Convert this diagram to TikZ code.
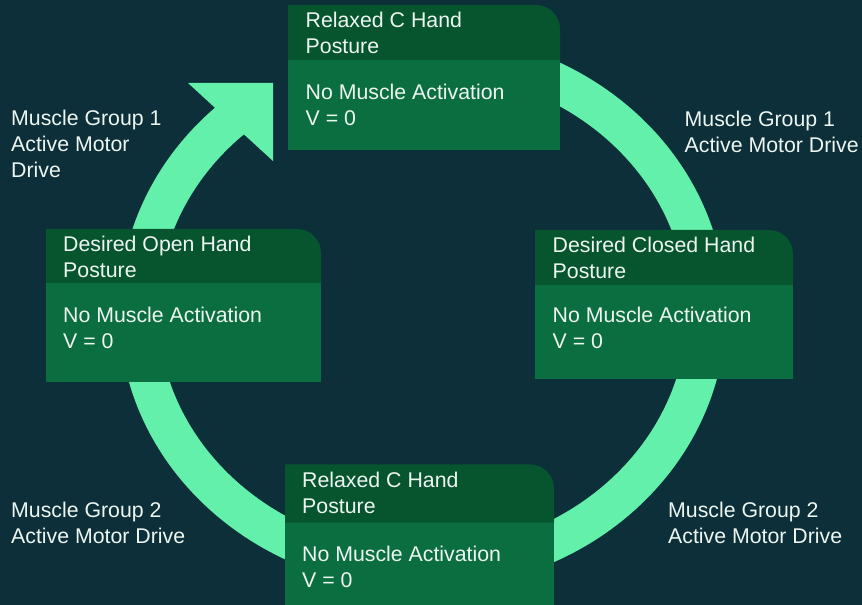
\documentclass[tikz,border=0pt]{standalone}
\usepackage{fontspec}
\usepackage{xcolor}
\setmainfont{Liberation Sans}
\usetikzlibrary{positioning}
\definecolor{bgteal}{HTML}{0C2F3A}
\definecolor{hdrgreen}{HTML}{07552F}
\definecolor{bodygreen}{HTML}{0B6E40}
\definecolor{ringgreen}{HTML}{63F0AA}
\definecolor{paletext}{HTML}{EEF6F0}

\begin{document}
\begin{tikzpicture}[
    x=1pt,y=1pt,
    txt/.style={anchor=base west,inner sep=0pt,align=left,text=paletext,font=\fontsize{21.3}{26}\selectfont},
    hdr/.style={fill=hdrgreen},
    bdy/.style={fill=bodygreen}
]
    % Dark background, fixes the page size
    \fill[bgteal] (0,0) rectangle (862,605);
    \useasboundingbox (0,0) rectangle (862,605);

    % Cycle ring, clockwise, ending in a head at the upper left
    \draw[ringgreen,line width=39pt] (422.5,294) ++(95:284pt and 259pt) arc[start angle=95,end angle=-229,x radius=284pt,y radius=259pt];
    \fill[ringgreen] (188,522) -- (273,522) -- (273,444) -- cycle;

    % Relaxed C hand (top)
    \fill[bdy] (288,455) rectangle (560,547);
    \fill[hdr] (288,545) -- (288,600) -- (536,600) arc[start angle=90,end angle=0,radius=24pt] -- (560,545) -- cycle;
    \node[txt] (relaxTopHead) at (305.5,551.8) {Relaxed C Hand\\Posture};
    \node[txt] (relaxTopBody) at (305.5,479.5) {No Muscle Activation\\V = 0};

    % Desired open hand (left)
    \fill[bdy] (46,222.5) rectangle (321,324);
    \fill[hdr] (46,322) -- (46,376) -- (297,376) arc[start angle=90,end angle=0,radius=24pt] -- (321,322) -- cycle;
    \node[txt] (openHead) at (63,327.8) {Desired Open Hand\\Posture};
    \node[txt] (openBody) at (63,256.8) {No Muscle Activation\\V = 0};

    % Desired closed hand (right)
    \fill[bdy] (535,225.5) rectangle (793,322);
    \fill[hdr] (535,320) -- (535,375) -- (769,375) arc[start angle=90,end angle=0,radius=24pt] -- (793,320) -- cycle;
    \node[txt] (closedHead) at (552.5,326.8) {Desired Closed Hand\\Posture};
    \node[txt] (closedBody) at (552.5,256.8) {No Muscle Activation\\V = 0};

    % Relaxed C hand (bottom)
    \fill[bdy] (285,0) rectangle (554,84.3);
    \fill[hdr] (285,82.3) -- (285,140.5) -- (530,140.5) arc[start angle=90,end angle=0,radius=24pt] -- (554,82.3) -- cycle;
    \node[txt] (relaxBotHead) at (302,91.8) {Relaxed C Hand\\Posture};
    \node[txt] (relaxBotBody) at (302,17.5) {No Muscle Activation\\V = 0};

    % Drive labels
    \node[txt] (driveTL) at (11,427.5) {Muscle Group 1\\Active Motor\\Drive};
    \node[txt] (driveTR) at (684.5,452.8) {Muscle Group 1\\Active Motor Drive};
    \node[txt] (driveBL) at (11,61.2) {Muscle Group 2\\Active Motor Drive};
    \node[txt] (driveBR) at (668,61.2) {Muscle Group 2\\Active Motor Drive};
\end{tikzpicture}
\end{document}
